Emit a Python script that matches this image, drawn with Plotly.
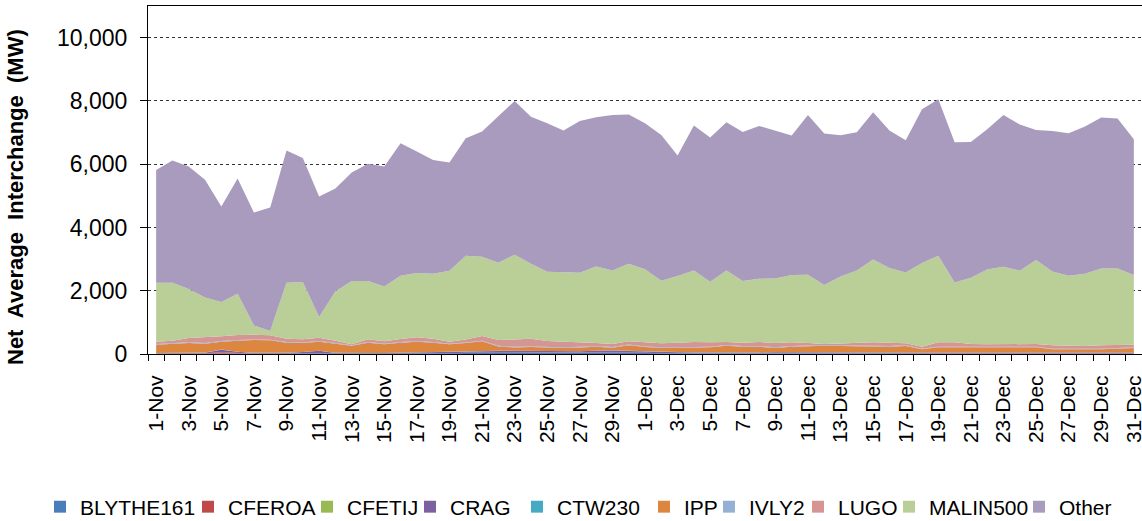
import plotly.graph_objects as go

# ---------------- data ----------------
dates = [f"{d}-Nov" for d in range(1, 31)] + [f"{d}-Dec" for d in range(1, 32)]

series_names = ["BLYTHE161", "CFEROA", "CFETIJ", "CRAG", "CTW230",
                "IPP", "IVLY2", "LUGO", "MALIN500", "Other"]

BLYTHE161 = [10, 10, 10, 10, 15, 10, 10, 10, 10, 15, 20, 10, 10, 10, 10, 15, 20, 20, 20,
             35, 40, 45, 45, 45, 40, 40, 40, 45, 45, 40, 35,
             20, 20, 15, 15, 15, 15, 15, 20, 20, 20, 15, 15, 15, 15, 15, 20, 20, 15, 15,
             15, 15, 15, 15, 15, 15, 15, 15, 15, 15, 15]
CFEROA = [5, 5, 5, 10, 40, 20, 5, 5, 5, 5, 10, 5, 5, 5, 5, 5, 5, 5, 5,
          5, 5, 5, 5, 5, 5, 5, 5, 5, 5, 5, 5,
          5, 5, 5, 5, 5, 5, 5, 5, 5, 5, 5, 5, 5, 5, 5, 5, 5, 5, 5,
          5, 5, 5, 5, 5, 5, 5, 5, 5, 5, 5]
CFETIJ = [0] * 61
CRAG = [10, 10, 15, 20, 80, 40, 20, 15, 20, 40, 70, 20, 10, 10, 15, 20, 40, 40, 40,
        40, 40, 45, 50, 45, 40, 35, 40, 50, 60, 50, 40,
        30, 30, 30, 25, 25, 30, 30, 30, 25, 25, 25, 25, 30, 30, 25, 25, 20, 20, 25,
        25, 25, 25, 30, 25, 25, 25, 25, 25, 25, 25]
CTW230 = [5] * 61
IPP = [263, 290, 315, 281, 250, 346, 402, 397, 318, 282, 285, 286, 233, 328, 270, 313,
       320, 288, 235, 260, 310, 140, 103, 119, 118, 105, 118, 124, 85, 180, 134,
       130, 130, 156, 161, 213, 177, 177, 130, 177, 195, 214, 203, 187, 195, 182,
       198, 98, 166, 161, 150, 140, 140, 145, 161, 98, 108, 98, 98, 119, 140]
IVLY2 = [20, 20, 20, 20, 20, 20, 20, 20, 20, 20, 20, 20, 10, 20, 20, 20,
         20, 20, 20, 20, 20, 20, 20, 20, 20, 20, 20, 20, 20, 20, 20,
         20, 20, 20, 20, 20, 20, 20, 20, 20, 20, 20, 20, 20, 20, 20,
         20, 20, 20, 20, 20, 20, 20, 20, 20, 20, 20, 20, 20, 20, 20]
LUGO = [77, 80, 135, 181, 148, 159, 149, 138, 106, 96, 106, 74, 33, 85, 75, 96,
        117, 106, 65, 95, 150, 180, 232, 241, 182, 185, 150, 96, 100, 100, 131,
        127, 148, 148, 138, 96, 106, 127, 138, 117, 75, 32, 57, 96, 99, 106,
        65, 64, 138, 138, 96, 96, 96, 90, 85, 106, 86, 85, 106, 106, 85]
MALIN500 = [1862, 1832, 1547, 1260, 1084, 1304, 292, 136, 1768, 1811, 652, 1557, 1999,
            1842, 1735, 1999, 2031, 2052, 2241, 2644, 2503, 2443, 2676, 2372, 2189,
            2182, 2189, 2421, 2320, 2452, 2310, 1978, 2105, 2261, 1914, 2261, 1947,
            1999, 2040, 2125, 2159, 1863, 2122, 2282, 2619, 2358, 2239, 2641, 2735,
            1893, 2094, 2366, 2451, 2321, 2652, 2335, 2209, 2283, 2429, 2408, 2199]
Other = [3568, 3862, 3873, 3718, 3019, 3642, 3569, 3904, 4178, 3925, 3809, 3253, 3430,
         3705, 3790, 4190, 3840, 3600, 3420, 3717, 3957, 4620, 4864, 4651, 4696, 4484,
         4801, 4718, 4917, 4715, 4615, 4610, 3809, 4579, 4557, 4686, 4715, 4832, 4673,
         4410, 5053, 4788, 4464, 4371, 4654, 4345, 4181, 4864, 4949, 4433, 4294, 4433,
         4800, 4620, 4115, 4443, 4506, 4654, 4769, 4738, 4296]

values = [BLYTHE161, CFEROA, CFETIJ, CRAG, CTW230, IPP, IVLY2, LUGO, MALIN500, Other]

# ---------------- style ----------------
colors = ["#4A7EBB", "#BE4B48", "#98B954", "#7D60A0", "#46AAC5",
          "#DD8640", "#95B0D5", "#D59593", "#BACE98", "#A99BBD"]
legend_text_start = [80, 228, 347, 450, 557, 684, 749, 838, 929, 1059]

FONT = "Liberation Sans, Arial, sans-serif"
W, H = 1142, 521
ML, MR, MT, MB = 148, 0, 6, 167
PW = W - ML - MR
PH = H - MT - MB

x = list(range(len(dates)))

fig = go.Figure()
for name, vals, col in zip(series_names, values, colors):
    fig.add_trace(go.Scatter(
        x=x, y=vals, name=name, mode="lines", stackgroup="one",
        line=dict(width=0, color=col), fillcolor=col, showlegend=False,
        hoverinfo="x+y+name"))

layout_legends = {}
for k, (name, col, ts) in enumerate(zip(series_names, colors, legend_text_start)):
    key = "legend" if k == 0 else f"legend{k + 1}"
    fig.add_trace(go.Scatter(
        x=[None], y=[None], mode="markers", name=name,
        marker=dict(symbol="square", size=12, color=col),
        showlegend=True, legend=key))
    layout_legends[key] = dict(
        x=(ts - 40 - ML) / PW, xanchor="left",
        y=(MT + PH - 507) / PH, yanchor="middle",
        orientation="h", bgcolor="rgba(0,0,0,0)", borderwidth=0,
        font=dict(family=FONT, size=21, color="black"))

fig.update_layout(
    width=W, height=H,
    margin=dict(l=ML, r=MR, t=MT, b=MB, autoexpand=False),
    plot_bgcolor="white", paper_bgcolor="white",
    font=dict(family=FONT, color="black"),
    **layout_legends,
    xaxis=dict(
        range=[-0.5, len(dates) - 0.5],
        tickmode="array", tickvals=x[::2], ticktext=dates[::2],
        tickangle=-90, tickfont=dict(size=21, family=FONT, color="black"),
        ticks="", showline=True, linecolor="black", linewidth=1, mirror=True,
        showgrid=False, zeroline=False, ticklabelstandoff=12,
        ticklabeloverflow="allow",
        minor=dict(tickmode="array", tickvals=[i - 0.5 for i in range(len(dates) + 1)],
                   ticks="outside", ticklen=6, tickcolor="black", tickwidth=1,
                   showgrid=False),
    ),
    yaxis=dict(
        range=[0, 11000], tickmode="linear", tick0=0, dtick=2000, tickformat=",d",
        tickfont=dict(size=23, family=FONT, color="black"),
        ticks="outside", ticklen=7, tickcolor="black",
        showline=True, linecolor="black", linewidth=1,
        showgrid=True, gridcolor="#333333", griddash="dot", gridwidth=1,
        zeroline=False, ticklabelstandoff=8,
    ),
    annotations=[dict(
        text="<b>Net\u00a0 Average\u00a0 Interchange\u00a0 (MW)</b>",
        xref="paper", yref="paper",
        x=(15 - ML) / PW, y=(MT + PH - 197) / PH,
        xanchor="center", yanchor="middle", textangle=-90, showarrow=False,
        font=dict(family=FONT, size=22, color="black"))],
)

fig.write_html(
    "out.html",
    config={"displayModeBar": False},
    post_script="document.body.style.margin='0';document.body.style.overflow='hidden';",
)
